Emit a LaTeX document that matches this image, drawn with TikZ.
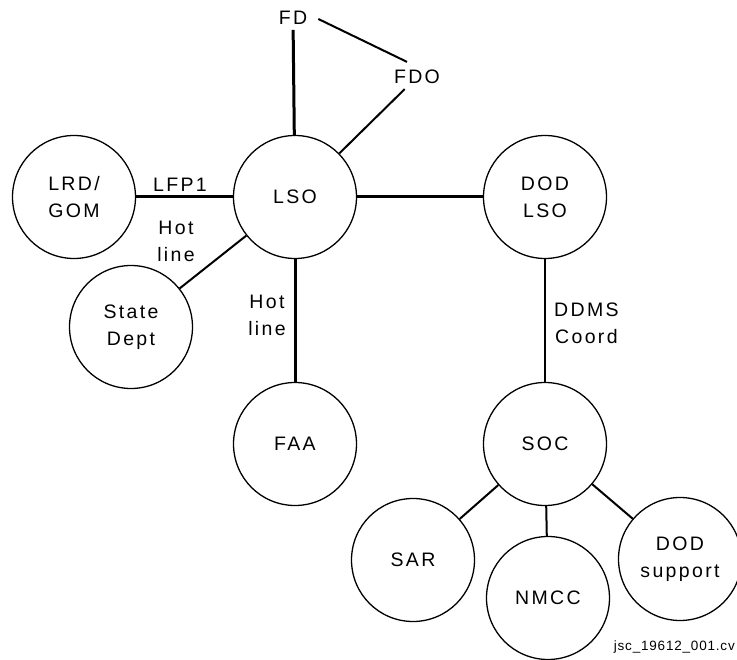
\documentclass[tikz,border=0pt]{standalone}
\usepackage{fontspec}
\setmainfont{Liberation Sans}[LetterSpace=12]
\newfontfamily\smallfont{Liberation Sans}[LetterSpace=6]
\begin{document}
\begin{tikzpicture}[x=1pt,y=-1pt,
  org/.style={circle,draw,line width=1.3pt,minimum size=123pt,inner sep=0pt,align=center,
              font=\fontsize{19.5}{27}\selectfont},
  lbl/.style={inner sep=1pt,align=center,font=\fontsize{19.5}{27}\selectfont},
  thickline/.style={line width=3pt},
  thinline/.style={line width=2pt}]
\useasboundingbox (0,0) rectangle (737,660);
\node[org] (LSO) at (295,197) {LSO};
\node[org] (LRD) at (74,197) {LRD/\\GOM};
\node[org] (DODLSO) at (545,197) {DOD\\LSO};
\node[org] (State) at (131,327) {State\\Dept};
\node[org] (FAA) at (295,444) {FAA};
\node[org] (SOC) at (545,444) {SOC};
\node[org] (SAR) at (413,560) {SAR};
\node[org] (NMCC) at (548,598) {NMCC};
\node[org] (DODsup) at (680,559) {DOD\\support};
\node[lbl,inner sep=5pt] (FD) at (293,18) {FD};
\node[lbl,inner sep=5pt] (FDO) at (417,77) {FDO};
\node[lbl] (lfp) at (180,185) {LFP1};
\node[lbl] (hot1) at (176,241) {Hot\\line};
\node[lbl] (hot2) at (267,315) {Hot\\line};
\node[lbl,anchor=west] (ddms) at (553,323) {DDMS\\Coord};
\node[anchor=east,inner sep=0pt,font=\smallfont\fontsize{13.5}{16}\selectfont] (jsc) at (735,647) {jsc\_19612\_001.cv};
\draw[thickline] (FD) -- (LSO);
\draw[thinline] ([xshift=6pt,yshift=-1pt]FD.east) -- ([xshift=-10pt,yshift=3pt]FDO.north);
\draw[thinline] (FDO) -- (LSO);
\draw[thickline] (LRD) -- (LSO);
\draw[thickline] (LSO) -- (DODLSO);
\draw[thinline] (LSO) -- (State);
\draw[thickline] (LSO) -- (FAA);
\draw[thinline] (DODLSO) -- (SOC);
\draw[thinline] (SOC) -- (SAR);
\draw[thinline] (SOC) -- (NMCC);
\draw[thinline] (SOC) -- (DODsup);
\end{tikzpicture}
\end{document}
